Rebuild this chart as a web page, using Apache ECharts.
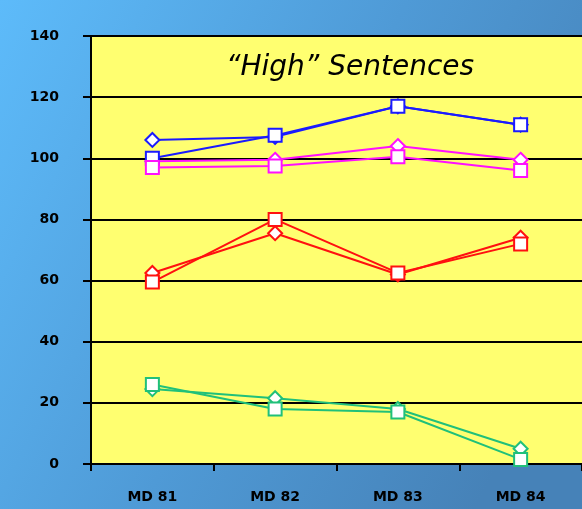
<!DOCTYPE html>
<html>
<head>
<meta charset="utf-8">
<script src="https://cdn.jsdelivr.net/npm/echarts@6/dist/echarts.min.js"></script>
<style>
  html, body { margin: 0; padding: 0; }
  #chart { width: 582px; height: 509px; }
</style>
</head>
<body>
<div id="chart"></div>
<script>
// Categories and values for each pair of series
const categories = ['MD 81', 'MD 82', 'MD 83', 'MD 84'];
const yTicks = [0, 20, 40, 60, 80, 100, 120, 140];

const blueSquare   = [100, 107.5, 117, 111];
const blueDiamond  = [106, 107, 117, 111];
const pinkSquare   = [97, 97.5, 100.5, 96];
const pinkDiamond  = [99, 99.5, 104, 99.5];
const redSquare    = [59.5, 80, 62.5, 72];
const redDiamond   = [62.5, 75.5, 62, 74];
const greenSquare  = [26, 18, 17, 1.5];
const greenDiamond = [24.5, 21.5, 18, 5];

const chart = echarts.init(document.getElementById('chart'), null, { renderer: 'canvas' });

function line(name, data, color, symbol, size, z) {
  return {
    name, type: 'line', data, z,
    symbol, symbolSize: size,
    lineStyle: { color, width: 2 },
    itemStyle: { color: '#ffffff', borderColor: color, borderWidth: 2 },
    emphasis: { disabled: true },
    animation: false
  };
}

chart.setOption({
  backgroundColor: {
    type: 'linear', x: 0, y: 0, x2: 1, y2: 0.6,
    colorStops: [
      { offset: 0, color: '#5dbbfa' },
      { offset: 0.55, color: '#4f9ad6' },
      { offset: 1, color: '#4682b8' }
    ]
  },
  title: {
    text: '\u201CHigh\u201D Sentences',
    left: 345, top: 49, textAlign: 'center',
    textStyle: { fontFamily: 'DejaVu Sans', fontStyle: 'italic', fontWeight: 'normal', fontSize: 28, color: '#000' }
  },
  grid: { left: 91, top: 36, width: 497, bottom: 45, backgroundColor: '#ffff70', show: true, borderWidth: 0 },
  xAxis: {
    type: 'category', data: categories, boundaryGap: true,
    axisLine: { lineStyle: { color: '#000', width: 2 } },
    axisTick: { show: true, length: 7, lineStyle: { color: '#000', width: 2 } },
    axisLabel: { margin: 26, color: '#000', fontFamily: 'DejaVu Sans', fontWeight: 'bold', fontSize: 14 }
  },
  yAxis: {
    type: 'value', min: 0, max: 140, interval: 20,
    axisLine: { show: true, lineStyle: { color: '#000', width: 2 } },
    axisTick: { show: true, length: 8, lineStyle: { color: '#000', width: 2 } },
    splitLine: { show: true, lineStyle: { color: '#000', width: 2 } },
    axisLabel: {
      margin: 32, color: '#000', fontFamily: 'DejaVu Sans', fontWeight: 'bold', fontSize: 14,
      formatter: v => yTicks.includes(v) ? String(v) : ''
    }
  },
  series: [
    line('blue-d', blueDiamond, '#1a1aff', 'diamond', 14, 2),
    line('blue-s', blueSquare, '#1a1aff', 'rect', 13, 3),
    line('pink-d', pinkDiamond, '#ff10ff', 'diamond', 14, 2),
    line('pink-s', pinkSquare, '#ff10ff', 'rect', 13, 3),
    line('red-d', redDiamond, '#ff1010', 'diamond', 14, 2),
    line('red-s', redSquare, '#ff1010', 'rect', 13, 3),
    line('green-d', greenDiamond, '#20c07a', 'diamond', 14, 2),
    line('green-s', greenSquare, '#20c07a', 'rect', 13, 3)
  ]
});
</script>
</body>
</html>
